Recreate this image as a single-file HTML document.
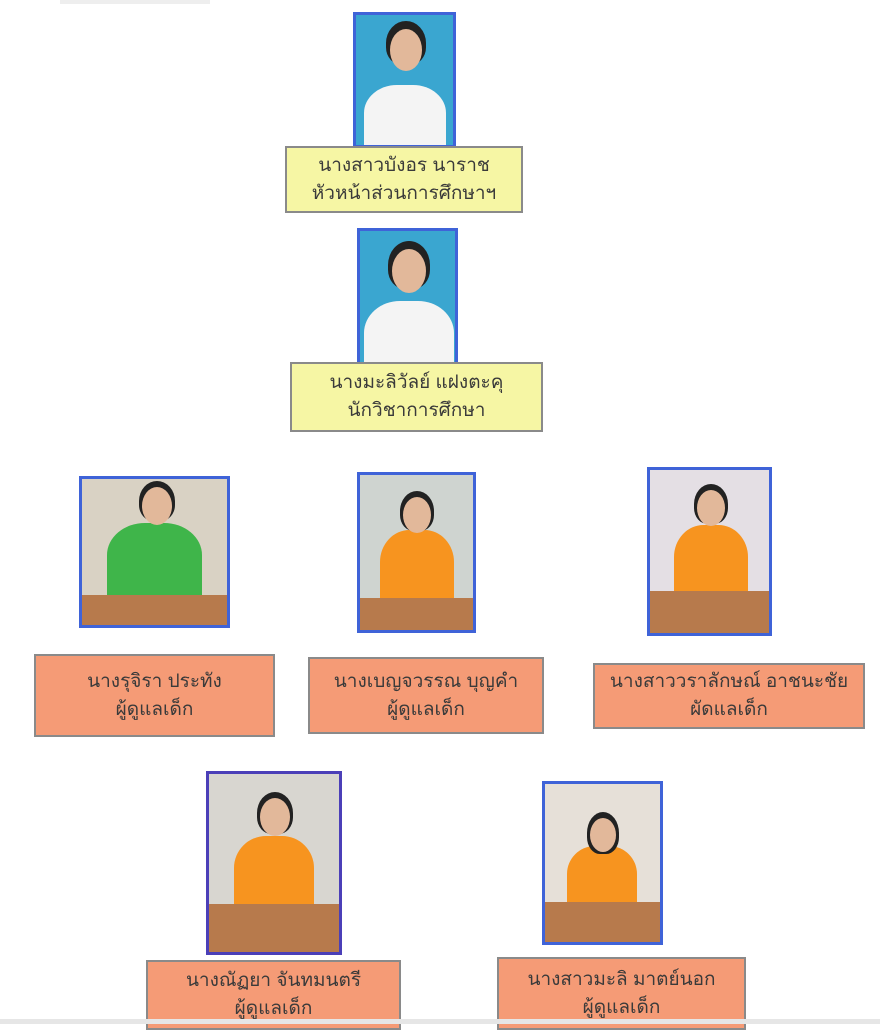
<!DOCTYPE html>
<html><head><meta charset="utf-8"><style>
body{margin:0;width:880px;height:1024px;background:#fff;position:relative;overflow:hidden;font-family:"Liberation Sans","DejaVu Sans",sans-serif}
.p{position:absolute;box-sizing:border-box;border:3px solid #3f63d8;overflow:hidden}
.l{position:absolute;box-sizing:border-box;border:2px solid #8a8a8a;display:flex;flex-direction:column;justify-content:center;align-items:center;font-size:19px;color:#3a3a3a;line-height:28px;text-align:center}
.y{background:#f6f6a4}.o{background:#f59b76}
.hd{position:absolute;border-radius:50%;background:#e2b89a}
.hr{position:absolute;border-radius:50% 50% 40% 40%;background:#222}
.bd{position:absolute;border-radius:40% 40% 0 0}
.tb{position:absolute;left:0;right:0;bottom:0;background:#b77a4c}
</style></head><body>
<div style="position:absolute;left:60px;top:0;width:150px;height:4px;background:#eee"></div>

<div class="p" style="left:353px;top:12px;width:103px;height:136px;background:#3aa6d0">
<div class="bd" style="left:8px;top:70px;width:82px;height:70px;background:#f4f4f4"></div>
<div class="hr" style="left:30px;top:6px;width:40px;height:44px"></div>
<div class="hd" style="left:34px;top:14px;width:32px;height:42px"></div></div>
<div class="l y" style="left:285px;top:146px;width:238px;height:67px">นางสาวบังอร นาราช<br>หัวหน้าส่วนการศึกษาฯ</div>

<div class="p" style="left:357px;top:228px;width:101px;height:147px;background:#3aa6d0">
<div class="bd" style="left:4px;top:70px;width:90px;height:80px;background:#f4f4f4"></div>
<div class="hr" style="left:28px;top:10px;width:42px;height:48px"></div>
<div class="hd" style="left:32px;top:18px;width:34px;height:44px"></div></div>
<div class="l y" style="left:290px;top:362px;width:253px;height:70px">นางมะลิวัลย์ แฝงตะคุ<br>นักวิชาการศึกษา</div>

<div class="p" style="left:79px;top:476px;width:151px;height:152px;background:#d9d2c4">
<div class="bd" style="left:25px;top:44px;width:95px;height:80px;background:#3fb54a"></div>
<div class="hr" style="left:57px;top:2px;width:36px;height:40px"></div>
<div class="hd" style="left:60px;top:8px;width:30px;height:38px"></div>
<div class="tb" style="height:30px"></div></div>
<div class="l o" style="left:34px;top:654px;width:241px;height:83px">นางรุจิรา ประทัง<br>ผู้ดูแลเด็ก</div>

<div class="p" style="left:357px;top:472px;width:119px;height:161px;background:#cfd4d0">
<div class="bd" style="left:20px;top:55px;width:74px;height:80px;background:#f7941f"></div>
<div class="hr" style="left:40px;top:16px;width:34px;height:40px"></div>
<div class="hd" style="left:43px;top:22px;width:28px;height:36px"></div>
<div class="tb" style="height:32px"></div></div>
<div class="l o" style="left:308px;top:657px;width:236px;height:77px">นางเบญจวรรณ บุญคำ<br>ผู้ดูแลเด็ก</div>

<div class="p" style="left:647px;top:467px;width:125px;height:169px;background:#e4dfe4">
<div class="bd" style="left:24px;top:55px;width:74px;height:80px;background:#f7941f"></div>
<div class="hr" style="left:44px;top:14px;width:34px;height:40px"></div>
<div class="hd" style="left:47px;top:20px;width:28px;height:36px"></div>
<div class="tb" style="height:42px"></div></div>
<div class="l o" style="left:593px;top:663px;width:272px;height:66px">นางสาววราลักษณ์ อาชนะชัย<br>ผัดแลเด็ก</div>

<div class="p" style="left:206px;top:771px;width:136px;height:184px;border-color:#4b3fb8;background:#d8d6d0">
<div class="bd" style="left:25px;top:62px;width:80px;height:80px;background:#f7941f"></div>
<div class="hr" style="left:48px;top:18px;width:36px;height:42px"></div>
<div class="hd" style="left:51px;top:24px;width:30px;height:38px"></div>
<div class="tb" style="height:48px"></div></div>
<div class="l o" style="left:146px;top:960px;width:255px;height:70px">นางณัฏยา จันทมนตรี<br>ผู้ดูแลเด็ก</div>

<div class="p" style="left:542px;top:781px;width:121px;height:164px;background:#e6e0d8">
<div class="bd" style="left:22px;top:62px;width:70px;height:70px;background:#f7941f"></div>
<div class="hr" style="left:42px;top:28px;width:32px;height:42px"></div>
<div class="hd" style="left:45px;top:34px;width:26px;height:34px"></div>
<div class="tb" style="height:40px"></div></div>
<div class="l o" style="left:497px;top:957px;width:249px;height:73px">นางสาวมะลิ มาตย์นอก<br>ผู้ดูแลเด็ก</div>

<div style="position:absolute;left:0;top:1019px;width:880px;height:5px;background:#e6e6e6"></div>
</body></html>
